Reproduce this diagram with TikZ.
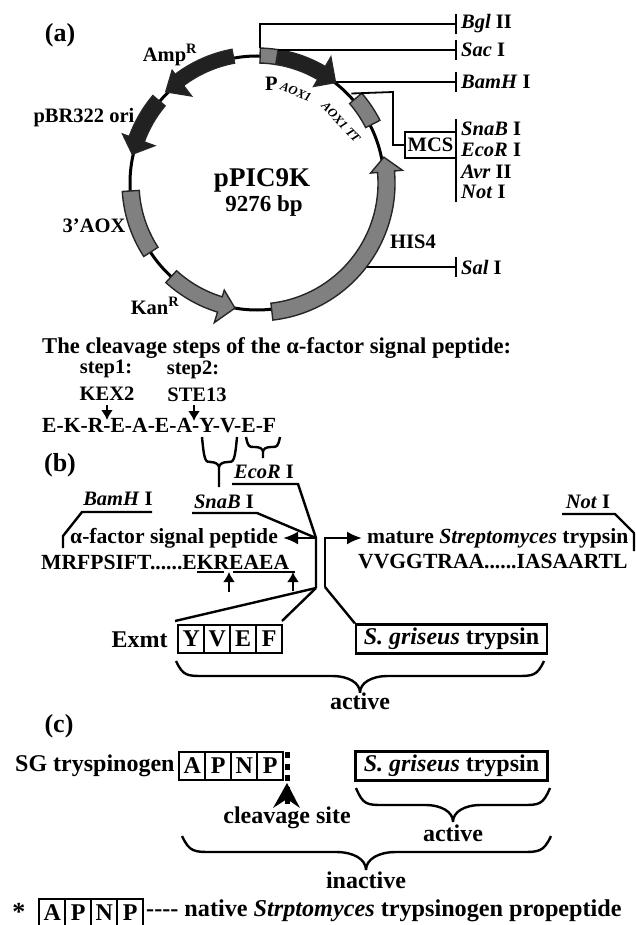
\documentclass[tikz,border=0pt]{standalone}
\usepackage{fontspec}
\setmainfont{Liberation Serif}
\usetikzlibrary{arrows.meta}
\usetikzlibrary{calc,matrix}

\definecolor{darkfill}{gray}{0.13}
\definecolor{greyfill}{gray}{0.5}

\tikzset{
	txt/.style={font=\fontsize{20.5}{22}\selectfont\bfseries,inner sep=0pt,text=black},
	midtxt/.style={font=\fontsize{21.6}{24}\selectfont\bfseries,inner sep=0pt},
	largetxt/.style={font=\fontsize{24}{26}\selectfont\bfseries,inner sep=0pt},
	big/.style={font=\fontsize{26}{28}\selectfont\bfseries,inner sep=0pt},
	tiny/.style={font=\fontsize{12.5}{14}\selectfont\bfseries\itshape,inner sep=0pt},
	ln/.style={line width=1.8pt},
	thick ln/.style={line width=2.4pt},
	gene/.style={draw=black!85,line width=1.4pt},
	cell/.style={draw,line width=2pt,minimum width=26pt,minimum height=28.5pt,inner sep=0pt,font=\fontsize{24}{26}\selectfont\bfseries},
	cellrow/.style={matrix of nodes,column sep=-2pt,inner sep=0pt,nodes={cell},ampersand replacement=\&},
	plainbox/.style={draw,line width=2.3pt,minimum height=29pt,inner sep=0pt,font=\fontsize{24}{26}\selectfont\bfseries},
	cut/.style={-{Latex[length=10pt,width=12pt]},thick ln},
	long cut/.style={-{Latex[length=15pt,width=13pt]},thick ln,shorten >=5pt}
}

% #1 fill, #2 tail, #3 head base, #4 tip angle, #5 inner r, #6 outer r, #7 head inner r, #8 head outer r
\newcommand{\genearrow}[8]{%
	\pgfmathsetmacro{\tipr}{(#5+#6)/2}
	\draw[gene,fill=#1,line join=miter] (#2:#6) arc[start angle=#2,end angle=#3,radius=#6] -- (#3:#8)
	-- (#4:\tipr) -- (#3:#7) -- (#3:#5) arc[start angle=#3,end angle=#2,radius=#5] -- cycle;
}
% #1 from, #2 to, #3 inner r, #4 outer r
\newcommand{\genebar}[4]{%
	\draw[gene,fill=greyfill] (#1:#4) arc[start angle=#1,end angle=#2,radius=#4] -- (#2:#3)
	arc[start angle=#2,end angle=#1,radius=#3] -- cycle;
}
% #1 left, #2 middle, #3 right, #4 top, #5 bar, #6 tip, #7 curve size
\newcommand{\curlybrace}[7]{%
	\draw[thick ln] (#1,#4) .. controls (#1+.25*#7,#5) and (#1+.4*#7,#5) .. (#1+#7,#5) -- (#2-#7,#5)
	.. controls (#2-.4*#7,#5) and (#2,#5+.25*#7) .. (#2,#5+.6*#7) -- (#2,#6)
	(#2,#5+.6*#7) .. controls (#2,#5+.25*#7) and (#2+.4*#7,#5) .. (#2+#7,#5) -- (#3-#7,#5)
	.. controls (#3-.4*#7,#5) and (#3-.25*#7,#5) .. (#3,#4);
}

\begin{document}
\begin{tikzpicture}[x=1pt,y=-1pt]
\useasboundingbox (0,0) rectangle (635,925);

% plasmid map
\begin{scope}[shift={(257,183)},y=1pt]
\draw[line width=3pt] (0,0) circle[radius=127];
\genearrow{darkfill}{100.6}{127}{135}{122}{136}{109}{141}
\genearrow{darkfill}{140}{160}{167}{120}{136}{109}{143}
\genebar{183.6}{213}{118}{135}
\genearrow{greyfill}{227.5}{253}{260}{119}{135}{112}{146}
\genearrow{greyfill}{276.6}{365}{371.5}{121}{138}{114}{146}
\genearrow{darkfill}{81}{59.6}{52}{120}{135}{112}{146}
\genebar{88.6}{81}{120}{135}
\genebar{40.6}{27}{122}{138}
\coordinate (bglsite) at (88.6:135);
\coordinate (sacsite) at (81:134);
\coordinate (bamsite) at (52:129);
\coordinate (mcssite) at (43.5:130);
\coordinate (salsite) at (-36.6:137);
\end{scope}

\node[big] (a) at (60,35) {(a)};
\node[font=\fontsize{27}{29}\selectfont\bfseries,inner sep=0pt] (pname) at (262,180) {pPIC9K};
\node[font=\fontsize{23}{25}\selectfont\bfseries,inner sep=0pt] (psize) at (264,206) {9276 bp};
\node[txt] (amp) at (170,55) {Amp\textsuperscript{R}};
\node[txt] (ori) at (84,118) {pBR322 ori};
\node[txt] (aox) at (94,226) {3’AOX};
\node[txt] (kan) at (155,306) {Kan\textsuperscript{R}};
\node[txt,anchor=west] (paox) at (265,84) {P};
\node[tiny,rotate=-22] (paoxsub) at (296,92) {AOX1};
\node[tiny,rotate=-47] (tt) at (341,122) {AOX1 TT};
\node[txt] (his) at (413,242) {HIS4};

\foreach \n/\y/\s in {bgl/24/{\textit{Bgl} II},sac/50/{\textit{Sac} I},bam/82/{\textit{BamH} I},sal/267/{\textit{Sal} I}} {
	\coordinate (\n) at (456,\y);
	\draw[ln] ($(\n)+(0,-10)$) -- ($(\n)+(0,10)$);
	\node[txt,anchor=west] (\n label) at (461,\y) {\s};
}
\foreach \n/\y/\s in {snab/129/{\textit{SnaB} I},ecor/150/{\textit{EcoR} I},avr/172/{\textit{Avr} II},not/192/{\textit{Not} I}} {
	\node[txt,anchor=west] (\n label) at (461,\y) {\s};
}
\node[draw,ln,txt,minimum width=51pt,minimum height=26pt] (mcs) at (430.5,145) {MCS};
\coordinate (mcstop) at (456,119);
\coordinate (mcsbot) at (456,202);
\draw[ln] (mcstop) -- (mcsbot);
\draw[ln] (bglsite) |- (bgl);
\draw[ln] (sacsite |- sac) -- (sac);
\draw[ln] (bamsite |- bam) -- (bam);
\draw[ln] (salsite |- sal) -- (sal);
\draw[ln] (mcssite) -- (393,92) |- (mcs.west);

% cleavage steps
\node[midtxt,font=\fontsize{22.6}{24}\selectfont\bfseries,anchor=west] (title) at (42,348) {The cleavage steps of the α-factor signal peptide:};
\node[txt] (step1) at (106,369) {step1:};
\node[txt] (step2) at (193,370) {step2:};
\node[txt] (kex) at (107,394) {KEX2};
\node[txt] (ste) at (197,395) {STE13};
\node[midtxt,anchor=west] (seq) at (42,426) {E-K-R-E-A-E-A-Y-V-E-F};
\coordinate (kexcut) at (107,420);
\coordinate (stecut) at (194,421);
\draw[cut] (107,405) -- (kexcut);
\draw[cut] (194,405) -- (stecut);
\curlybrace{202}{219}{237}{437}{462}{487}{9}
\curlybrace{246}{263}{280}{437}{447}{458}{8}

% construct
\node[big] (b) at (60,465) {(b)};
\node[txt] (ecor) at (264,472) {\textit{EcoR} I};
\node[txt] (snab) at (224,502) {\textit{SnaB} I};
\node[txt] (bamh) at (118,499) {\textit{BamH} I};
\node[txt] (not) at (588,502) {\textit{Not} I};
\node[midtxt,anchor=west] (alpha) at (70,538) {α-factor signal peptide};
\node[midtxt,anchor=west] (mature) at (367,538) {mature \textit{Streptomyces} trypsin};
\node[midtxt,anchor=west] (left seq) at (41,562) {MRFPSIFT......EKREAEA};
\node[midtxt,anchor=west] (right seq) at (358,562) {VVGGTRAA......IASAARTL};
\coordinate (join) at (316,538);
\coordinate (fork) at (316,588);
\coordinate (mid) at (325,538);
\coordinate (midlow) at (325,587);
\draw[thick ln] (232,484) -- (298,484) -- (join) -- (fork);
\draw[thick ln] (192,513) -- (257,513) -- (join);
\draw[thick ln] (152,512) -- (82,512) -- (63,536) -- (63,548);
\draw[thick ln] (562,514) -- (615,514) -- (634,533) -- (634,551);
\draw[long cut] (join) -- (alpha.east);
\draw[long cut] (midlow) -- (mid) -- (mature.west);
\draw[ln] (197,572) -- (224,572) (233,572) -- (295,572);
\draw[cut] (229,592) -- (229,572);
\draw[cut] (293,591) -- (293,572);

\node[largetxt] (exmt) at (139.5,640) {Exmt};
\matrix [cellrow,anchor=west] (exmtbox) at (177,639) {%
	Y \& V \& E \& F \\
};
\node[plainbox,minimum width=191pt] (griseus) at (451.5,639) {\textit{S. griseus} trypsin};
\draw[thick ln] (fork) -- (175,621);
\draw[thick ln] (fork) -- (282,621);
\draw[thick ln] (midlow) -- (griseus.north west);
\curlybrace{176}{360}{544}{661}{676}{692}{28}
\node[largetxt] (active) at (360,701) {active};

% proenzyme
\node[big] (c) at (59,726) {(c)};
\node[largetxt,anchor=west] (sg) at (15,766) {SG tryspinogen};
\matrix [cellrow,anchor=west] (apnp) at (178,766) {%
	A \& P \& N \& P \\
};
\node[plainbox,minimum width=192pt] (griseus two) at (451.5,766) {\textit{S. griseus} trypsin};
\draw[line width=5pt,dash pattern=on 6pt off 5.5pt] (287,752) -- (287,808);
\fill (287,783) -- (300,808) -- (287,799) -- (273,808) -- cycle;
\node[largetxt] (site) at (287,818) {cleavage site};
\curlybrace{356}{453}{550}{788}{805}{822}{28}
\node[largetxt] (active two) at (453,833) {active};
\curlybrace{182}{366}{551}{836}{852}{868}{30}
\node[largetxt] (inactive) at (366,880) {inactive};

\node[big] (star) at (19,912) {*};
\matrix [cellrow,anchor=west] (native) at (38,913) {%
	A \& P \& N \& P \\
};
\node[largetxt,font=\fontsize{24.2}{26}\selectfont\bfseries,anchor=west] (note) at (146,911) {-{}-{}-{}- native \textit{Strptomyces} trypsinogen propeptide};
\end{tikzpicture}
\end{document}
